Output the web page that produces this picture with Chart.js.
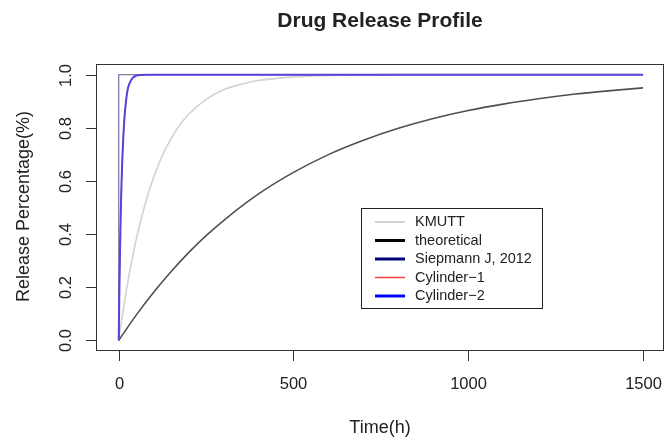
<!DOCTYPE html>
<html>
<head>
<meta charset="utf-8">
<script src="https://cdn.jsdelivr.net/npm/chart.js@4.4.1/dist/chart.umd.min.js"></script>
<style>
  html, body { margin: 0; padding: 0; background: #fff; }
  #wrap { width: 665px; height: 443px; }
</style>
</head>
<body>
<div id="wrap"><canvas id="myChart" width="665" height="443"></canvas></div>
<script>
// time points (h) and release fractions for each profile
const kmuttTime = [0, 10, 20, 30, 40, 50, 60, 80, 100, 125, 150, 175, 200, 250, 300, 350, 400, 500, 600, 800, 1000, 1500];
const kmuttRelease = [0, 0.091, 0.173, 0.249, 0.317, 0.379, 0.435, 0.533, 0.614, 0.696, 0.760, 0.811, 0.851, 0.907, 0.943, 0.964, 0.978, 0.991, 0.997, 1.0, 1.0, 1.0];

const theoTime = [0, 50, 100, 150, 200, 250, 300, 400, 500, 600, 700, 800, 900, 1000, 1100, 1200, 1300, 1400, 1500];
const theoRelease = [0.0, 0.095, 0.181, 0.259, 0.330, 0.394, 0.451, 0.551, 0.632, 0.699, 0.753, 0.798, 0.835, 0.865, 0.889, 0.909, 0.926, 0.939, 0.950];

const siepTime = [0, 0, 1500];
const siepRelease = [0, 1.0, 1.0];

const cylTime = [0, 2, 4, 6, 8, 10, 13, 16, 20, 25, 30, 40, 50, 60, 80, 100, 1500];
const cyl1Release = [0, 0.20, 0.36, 0.49, 0.59, 0.67, 0.76, 0.83, 0.89, 0.94, 0.964, 0.988, 0.996, 0.999, 1.0, 1.0, 1.0];
const cyl2Release = [0, 0.20, 0.36, 0.49, 0.59, 0.67, 0.76, 0.83, 0.89, 0.94, 0.964, 0.988, 0.996, 0.999, 1.0, 1.0, 1.0];

const xTicks = [0, 500, 1000, 1500];
const yTicks = [0.0, 0.2, 0.4, 0.6, 0.8, 1.0];

const legendLabels = ['KMUTT', 'theoretical', 'Siepmann J, 2012', 'Cylinder\u22121', 'Cylinder\u22122'];
const legendColors = ['#d3d3d3', '#000000', '#00007a', '#ff4040', '#0000ff'];
const legendWidths = [2, 3, 3, 1.5, 3];

function pts(xs, ys) {
    return xs.map((x, i) => ({ x: x, y: ys[i] }));
}

const FONT = '"Liberation Sans", Arial, Helvetica, sans-serif';

// base-graphics style frame, ticks, labels and legend
const rFrame = {
    id: 'rFrame',
    afterDraw(chart) {
        const ctx = chart.ctx;
        const a = chart.chartArea;
        const xs = chart.scales.x;
        const ys = chart.scales.y;
        ctx.save();
        ctx.strokeStyle = '#333';
        ctx.lineWidth = 1;
        ctx.strokeRect(a.left + 0.5, a.top + 0.5, a.right - a.left - 1, a.bottom - a.top - 1);

        ctx.fillStyle = '#222';
        ctx.font = '16.5px ' + FONT;
        // x axis ticks
        ctx.textAlign = 'center';
        ctx.textBaseline = 'middle';
        xTicks.forEach(v => {
            const px = Math.round(xs.getPixelForValue(v)) + 0.5;
            ctx.beginPath();
            ctx.moveTo(px, a.bottom);
            ctx.lineTo(px, a.bottom + 10);
            ctx.stroke();
            ctx.fillText(String(v), px, a.bottom + 33);
        });
        // y axis ticks, labels turned vertical
        yTicks.forEach(v => {
            const py = Math.round(ys.getPixelForValue(v)) + 0.5;
            ctx.beginPath();
            ctx.moveTo(a.left, py);
            ctx.lineTo(a.left - 10, py);
            ctx.stroke();
            ctx.save();
            ctx.translate(a.left - 30, py);
            ctx.rotate(-Math.PI / 2);
            ctx.fillText(v.toFixed(1), 0, 0);
            ctx.restore();
        });

        // axis titles
        ctx.font = '18px ' + FONT;
        ctx.fillText('Time(h)', (a.left + a.right) / 2, a.bottom + 77);
        ctx.save();
        ctx.translate(24, (a.top + a.bottom) / 2 - 1);
        ctx.rotate(-Math.PI / 2);
        ctx.fillText('Release Percentage(%)', 0, 0);
        ctx.restore();

        // main title
        ctx.font = 'bold 21px ' + FONT;
        ctx.fillText('Drug Release Profile', (a.left + a.right) / 2, 21);

        // legend box
        const lx = 361, ly = 208, lw = 181, lh = 100;
        ctx.fillStyle = '#fff';
        ctx.fillRect(lx, ly, lw, lh);
        ctx.strokeStyle = '#222';
        ctx.lineWidth = 1;
        ctx.strokeRect(lx + 0.5, ly + 0.5, lw, lh);
        ctx.font = '14.5px ' + FONT;
        ctx.textAlign = 'left';
        ctx.fillStyle = '#222';
        legendLabels.forEach((lab, i) => {
            const yy = ly + 14 + i * 18.5;
            ctx.strokeStyle = legendColors[i];
            ctx.lineWidth = legendWidths[i];
            ctx.beginPath();
            ctx.moveTo(lx + 14, yy);
            ctx.lineTo(lx + 44, yy);
            ctx.stroke();
            ctx.fillText(lab, lx + 54, yy);
        });
        ctx.restore();
    }
};

// higher order is painted first, so later series end up on top
const ctx = document.getElementById('myChart').getContext('2d');
const myChart = new Chart(ctx, {
    type: 'line',
    data: {
        datasets: [
            {
                label: 'KMUTT',
                data: pts(kmuttTime, kmuttRelease),
                borderColor: '#d2d2d2',
                borderWidth: 1.6,
                cubicInterpolationMode: 'monotone',
                order: 5
            },
            {
                label: 'theoretical',
                data: pts(theoTime, theoRelease),
                borderColor: '#505050',
                borderWidth: 1.6,
                cubicInterpolationMode: 'monotone',
                order: 4
            },
            {
                label: 'Siepmann J, 2012',
                data: pts(siepTime, siepRelease),
                borderColor: 'rgba(40,40,120,0.6)',
                borderWidth: 1.3,
                tension: 0,
                order: 3
            },
            {
                label: 'Cylinder-1',
                data: pts(cylTime, cyl1Release),
                borderColor: '#ff0000',
                borderWidth: 1,
                cubicInterpolationMode: 'monotone',
                order: 2
            },
            {
                label: 'Cylinder-2',
                data: pts(cylTime, cyl2Release),
                borderColor: '#5c40e0',
                borderWidth: 2,
                cubicInterpolationMode: 'monotone',
                order: 1
            }
        ]
    },
    options: {
        responsive: false,
        animation: false,
        layout: { padding: { left: 96, top: 64, right: 1, bottom: 92 } },
        elements: { point: { radius: 0 } },
        scales: {
            x: { type: 'linear', min: -65, max: 1560, display: false },
            y: { min: -0.04, max: 1.04, display: false }
        },
        plugins: {
            legend: { display: false },
            tooltip: { enabled: false }
        }
    },
    plugins: [rFrame]
});
</script>
</body>
</html>
